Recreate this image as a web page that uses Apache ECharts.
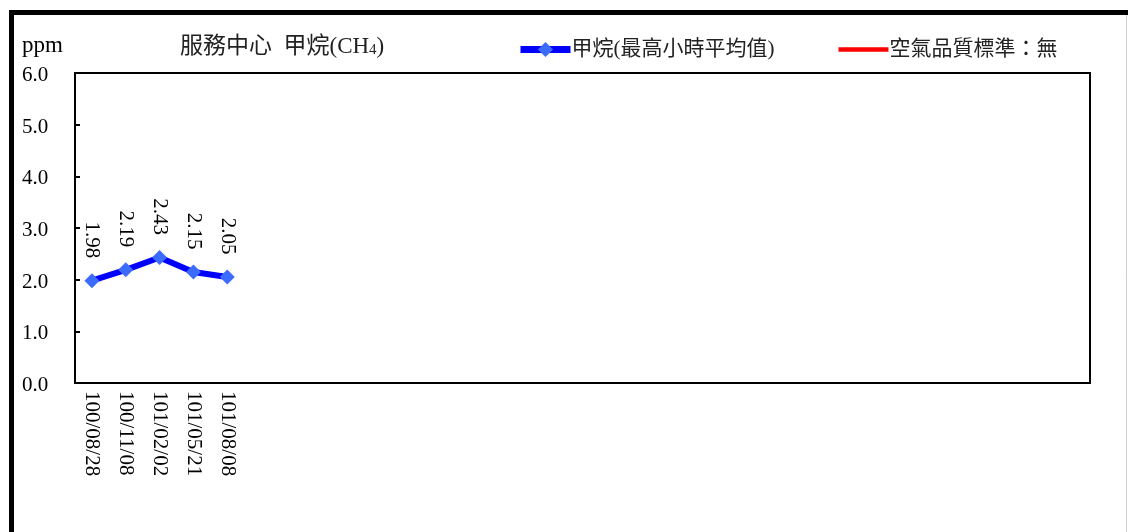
<!DOCTYPE html>
<html><head><meta charset="utf-8">
<script src="https://cdn.jsdelivr.net/npm/echarts@6/dist/echarts.min.js"></script>
<style>html,body{margin:0;padding:0;background:#fff}#c{width:1128px;height:532px}</style>
</head><body><div id="c"></div>
<script>
const dates = ['100/08/28','100/11/08','101/02/02','101/05/21','101/08/08'];
const slotCount = 30;
const ch4Values = [1.98, 2.19, 2.43, 2.15, 2.05];
const standardValues = [];
const yTicks = [0,1,2,3,4,5,6];
const seriesNames = ['甲烷(最高小時平均值)','空氣品質標準：無'];

const categories = [];
for (let i = 0; i < slotCount; i++) categories.push(i < dates.length ? dates[i] : ' ' + i);
const FONT = '"Liberation Serif","Noto Sans CJK TC",serif';

const chart = echarts.init(document.getElementById('c'), null, {renderer:'canvas'});
chart.setOption({
  animation:false,
  backgroundColor:'#fff',
  textStyle:{fontFamily:FONT},
  title:[
    {text:'ppm', left:22, top:34, padding:0, textStyle:{fontFamily:FONT, fontSize:23, fontWeight:'normal', color:'#000'}},
    {text:'{a|服務中心  甲烷(CH}{s|4}{a|)}', left:180, top:35, padding:0,
     textStyle:{rich:{a:{fontFamily:FONT, fontSize:23, fontWeight:'normal', color:'#222'}, s:{fontFamily:FONT, fontSize:15, fontWeight:'normal', color:'#222', padding:[8,0,0,0]}}}}
  ],
  legend:{left:512, top:34, itemWidth:50, itemHeight:19, itemGap:64,
    textStyle:{fontFamily:FONT, fontSize:21, color:'#222', padding:[0,0,0,-4]},
    data:[
      {name:seriesNames[0], lineStyle:{width:7, color:'#0000ff'}},
      {name:seriesNames[1], icon:'path://M0,0 L46,0 L46,4 L0,4 Z', itemStyle:{color:'#ff0000'}}
    ]},
  grid:{left:75, right:38, top:73, bottom:149, show:true, borderColor:'#000', borderWidth:2, backgroundColor:'transparent'},
  xAxis:{type:'category', data:categories, boundaryGap:true,
    axisLine:{lineStyle:{color:'#000', width:2}},
    axisTick:{inside:true, length:5, lineStyle:{color:'#000', width:2}},
    axisLabel:{interval:0, rotate:-90, margin:8, color:'#000', fontFamily:FONT, fontSize:21,
      formatter:v => dates.includes(v) ? v : ''}},
  yAxis:{type:'value', min:yTicks[0], max:yTicks[yTicks.length-1], interval:1,
    axisLine:{show:true, lineStyle:{color:'#000', width:2}},
    axisTick:{show:true, inside:true, length:5, lineStyle:{color:'#000', width:2}},
    splitLine:{show:false},
    axisLabel:{align:'left', margin:53, color:'#000', fontFamily:FONT, fontSize:21,
      formatter:v => '{v|' + v.toFixed(1) + '}',
      rich:{v:{fontFamily:FONT, fontSize:21, color:'#000', padding:[5,0,0,0]}}}},
  series:[
    {name:seriesNames[0], type:'line', data:ch4Values,
     lineStyle:{color:'#0000ff', width:6}, itemStyle:{color:'#3c6cff'},
     symbol:'diamond', symbolSize:15,
     label:{show:true, position:'top', rotate:-90, align:'right', verticalAlign:'middle', distance:15,
       color:'#000', fontFamily:FONT, fontSize:21, formatter:p => p.value.toFixed(2)}},
    {name:seriesNames[1], type:'line', data:standardValues, symbol:'none',
     lineStyle:{color:'#ff0000', width:4}, itemStyle:{color:'#ff0000'}}
  ],
  graphic:[
    {type:'rect', shape:{x:11.5, y:12.5, width:1300, height:800}, style:{fill:'none', stroke:'#000', lineWidth:5}, z:100},
    {type:'line', shape:{x1:1126.5, y1:15, x2:1126.5, y2:532}, style:{stroke:'#cfcfcf', lineWidth:1}, z:100}
  ]
});
</script></body></html>
